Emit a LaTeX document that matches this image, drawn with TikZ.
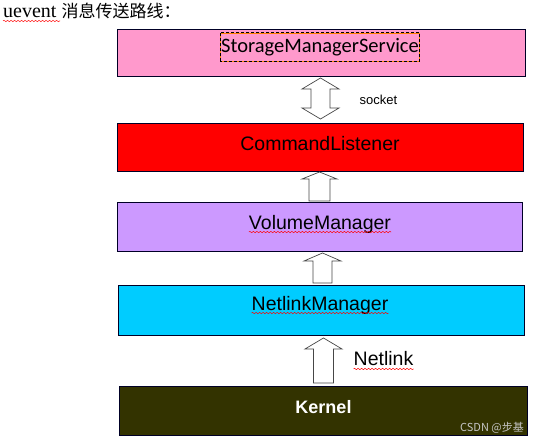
\documentclass[tikz,border=0pt]{standalone}
\usepackage{fontspec}
\setmainfont{Liberation Sans}
\newfontfamily\calibrifont{Carlito}
\newfontfamily\seriffont{Liberation Serif}
\newfontfamily\cjk{Noto Sans CJK SC}
\usetikzlibrary{positioning,decorations.pathmorphing}

\definecolor{smspink}{RGB}{255,153,204}
\definecolor{clred}{RGB}{255,0,0}
\definecolor{vmpurple}{RGB}{204,153,255}
\definecolor{nmcyan}{RGB}{0,204,255}
\definecolor{kolive}{RGB}{51,51,0}
\definecolor{arrowgray}{RGB}{70,70,70}

\begin{document}
\begin{tikzpicture}[x=1pt,y=-1pt,
    layer/.style={draw=black!85!blue, line width=0.9pt, minimum width=406pt, minimum height=48pt, inner sep=0pt},
    layertext/.style={font=\fontsize{19.5}{22}\selectfont, inner sep=0pt},
    blockarrow/.style={draw=arrowgray, fill=white, line width=0.7pt},
    spell/.style={draw=red, line width=0.5pt, decorate, decoration={snake, amplitude=0.7pt, segment length=3.5pt}}]
  \useasboundingbox (0,0) rectangle (542,446);

  % title
  \node[anchor=base west, inner sep=0pt] (title) at (3,18)
    {\seriffont\fontsize{20}{22}\selectfont uevent\ \cjk\fontsize{17}{20}\selectfont 消息传送路线：};
  \draw[spell] ([yshift=-3pt]title.base west) -- ++(57,0);

  % layers
  \node[layer, fill=smspink, minimum width=408pt, minimum height=47pt] (sms) at (321,52.5) {};
  \node[layer, fill=clred, minimum height=48pt] (cl) at (320,147) {};
  \node[layer, fill=vmpurple, minimum width=405pt, minimum height=49pt] (vm) at (319.5,226.5) {};
  \node[layer, fill=nmcyan, minimum height=50pt] (nm) at (321,310) {};
  \node[layer, fill=kolive, minimum width=408pt, minimum height=49pt] (kern) at (323,410.5) {};

  % layer names
  \node[font=\calibrifont\fontsize{20.5}{24}\selectfont, draw=orange, line width=0.8pt,
        inner xsep=0.5pt, minimum height=28pt] (smstext) at (320,47) {StorageManagerService};
  \draw[dash pattern=on 3pt off 2pt, line width=0.6pt] (smstext.south west) rectangle (smstext.north east);
  \node[layertext] (cltext) at (320,144) {CommandListener};
  \node[layertext] (vmtext) at (320,224) {VolumeManager};
  \draw[spell] ([yshift=-3pt]vmtext.base west) -- ([yshift=-3pt]vmtext.base east);
  \node[layertext] (nmtext) at (320,305) {NetlinkManager};
  \draw[spell] ([yshift=-3pt]nmtext.base west) -- ([yshift=-3pt]nmtext.base east);
  \node[font=\bfseries\fontsize{18}{21}\selectfont, text=white, inner sep=0pt] (kerntext) at (323.5,407) {Kernel};

  % block arrows
  \coordinate (socktip) at (320.5,78);
  \draw[blockarrow] (socktip) -- ++(18.5,11) -- ++(-9,0) -- ++(0,19) -- ++(9,0) -- ++(-18.5,11)
    -- ++(-18.5,-11) -- ++(9,0) -- ++(0,-19) -- ++(-9,0) -- cycle;
  \coordinate (cltip) at (319.5,172);
  \draw[blockarrow] (cltip) -- ++(17.5,7) -- ++(-7,0) -- ++(0,22) -- ++(-21,0) -- ++(0,-22) -- ++(-7,0) -- cycle;
  \coordinate (vmtip) at (322.5,253);
  \draw[blockarrow] (vmtip) -- ++(18.5,8) -- ++(-9,0) -- ++(0,22) -- ++(-19,0) -- ++(0,-22) -- ++(-9,0) -- cycle;
  \coordinate (nmtip) at (323.5,338);
  \draw[blockarrow] (nmtip) -- ++(18.5,11) -- ++(-8.5,0) -- ++(0,34) -- ++(-20,0) -- ++(0,-34) -- ++(-8.5,0) -- cycle;

  % arrow labels
  \node[font=\fontsize{13}{15}\selectfont, inner sep=0pt] (socklbl) at (378.5,100) {socket};
  \node[layertext] (netlbl) at (383.5,359) {Netlink};
  \draw[spell] ([yshift=-3pt]netlbl.base west) -- ([yshift=-3pt]netlbl.base east);

  \node[font=\cjk\fontsize{11}{13}\selectfont, text=gray!45!white, inner sep=0pt] (wmark) at (492,428) {CSDN @步基};
\end{tikzpicture}
\end{document}
